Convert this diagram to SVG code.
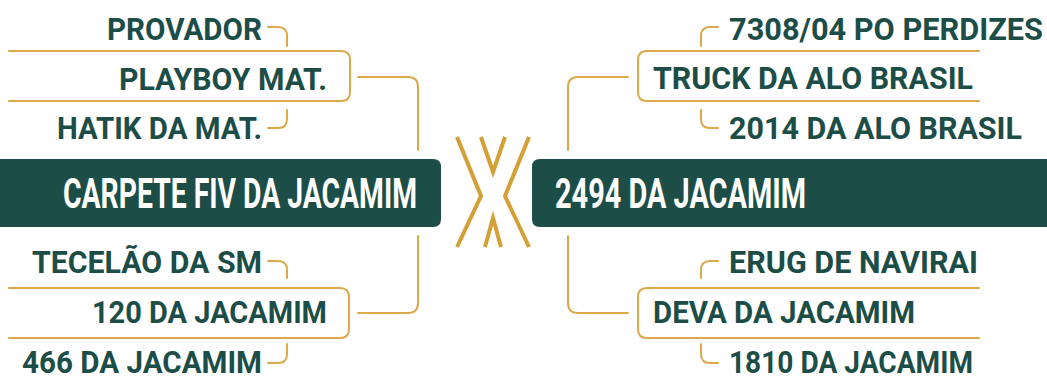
<svg xmlns="http://www.w3.org/2000/svg" width="1047" height="389" viewBox="0 0 1047 389">
<style>
.ln{fill:none;stroke:#DCA84A;stroke-width:2;stroke-linecap:round}
.x{fill:none;stroke:#D49F35;stroke-width:4;stroke-linejoin:miter}
.lbl{font-family:Roboto,"Liberation Sans",sans-serif;font-weight:700;font-size:31px;fill:#1C4D47}
.main{font-family:Roboto,"Liberation Sans",sans-serif;font-weight:700;font-size:42px;fill:#FFFFFF}
.box{fill:#1C4D47}
</style>
<rect width="1047" height="389" fill="#FFFFFF"/>
<g id="connectors">
<path class="ln" d="M268,27 H278 Q287,27 287,36 V46"/>
<path class="ln" d="M287,110 V119 Q287,128 278,128 H268"/>
<path class="ln" d="M9,51 H341 Q350,51 350,60 V92 Q350,101 341,101 H9"/>
<path class="ln" d="M358,77 H408 Q418,77 418,87 V150"/>
<path class="ln" d="M268,261 H278 Q287,261 287,270 V278"/>
<path class="ln" d="M287,344 V354 Q287,363 278,363 H268"/>
<path class="ln" d="M9,288 H340 Q349,288 349,297 V329 Q349,338 340,338 H9"/>
<path class="ln" d="M358,313 H408 Q418,313 418,303 V236"/>
<path class="ln" d="M718,27 H710 Q701,27 701,36 V46"/>
<path class="ln" d="M701,110 V119 Q701,128 710,128 H718"/>
<path class="ln" d="M979,51 H647 Q638,51 638,60 V92 Q638,101 647,101 H979"/>
<path class="ln" d="M628,77 H578 Q568,77 568,87 V150"/>
<path class="ln" d="M718,261 H710 Q701,261 701,270 V278"/>
<path class="ln" d="M701,344 V354 Q701,363 710,363 H718"/>
<path class="ln" d="M979,288 H647 Q638,288 638,297 V329 Q638,338 647,338 H979"/>
<path class="ln" d="M628,313 H578 Q568,313 568,303 V236"/>
</g>
<g id="versus">
<polyline class="x" points="457,137 481,196 457,247"/>
<polyline class="x" points="529,137 505,196 529,247"/>
<polyline class="x" points="481,137 493,172 505,137"/>
<polyline class="x" points="485,247 493,218 501,247"/>
</g>
<g id="main-left">
<path class="box" d="M0,159 H433 Q441,159 441,167 V219 Q441,227 433,227 H0 Z"/>
<text class="main" x="63" y="208" textLength="354" lengthAdjust="spacingAndGlyphs">CARPETE FIV DA JACAMIM</text>
</g>
<g id="main-right">
<path class="box" d="M1047,159 H540 Q532,159 532,167 V219 Q532,227 540,227 H1047 Z"/>
<text class="main" x="555" y="208" textLength="251" lengthAdjust="spacingAndGlyphs">2494 DA JACAMIM</text>
</g>
<g id="provador"><text class="lbl" x="107" y="40" textLength="155" lengthAdjust="spacingAndGlyphs">PROVADOR</text></g>
<g id="playboy"><text class="lbl" x="119" y="90" textLength="208" lengthAdjust="spacingAndGlyphs">PLAYBOY MAT.</text></g>
<g id="hatik"><text class="lbl" x="57" y="139" textLength="205" lengthAdjust="spacingAndGlyphs">HATIK DA MAT.</text></g>
<g id="tecelao"><text class="lbl" x="32" y="273" textLength="230" lengthAdjust="spacingAndGlyphs">TECELÃO DA SM</text></g>
<g id="n120"><text class="lbl" x="92" y="323" textLength="235" lengthAdjust="spacingAndGlyphs">120 DA JACAMIM</text></g>
<g id="n466"><text class="lbl" x="22" y="373" textLength="240" lengthAdjust="spacingAndGlyphs">466 DA JACAMIM</text></g>
<g id="n7308"><text class="lbl" x="729" y="40" textLength="314" lengthAdjust="spacingAndGlyphs">7308/04 PO PERDIZES</text></g>
<g id="truck"><text class="lbl" x="653" y="89" textLength="320" lengthAdjust="spacingAndGlyphs">TRUCK DA ALO BRASIL</text></g>
<g id="n2014"><text class="lbl" x="729" y="139" textLength="293" lengthAdjust="spacingAndGlyphs">2014 DA ALO BRASIL</text></g>
<g id="erug"><text class="lbl" x="729" y="273" textLength="249" lengthAdjust="spacingAndGlyphs">ERUG DE NAVIRAI</text></g>
<g id="deva"><text class="lbl" x="653" y="323" textLength="262" lengthAdjust="spacingAndGlyphs">DEVA DA JACAMIM</text></g>
<g id="n1810"><text class="lbl" x="729" y="373" textLength="244" lengthAdjust="spacingAndGlyphs">1810 DA JACAMIM</text></g>
</svg>
